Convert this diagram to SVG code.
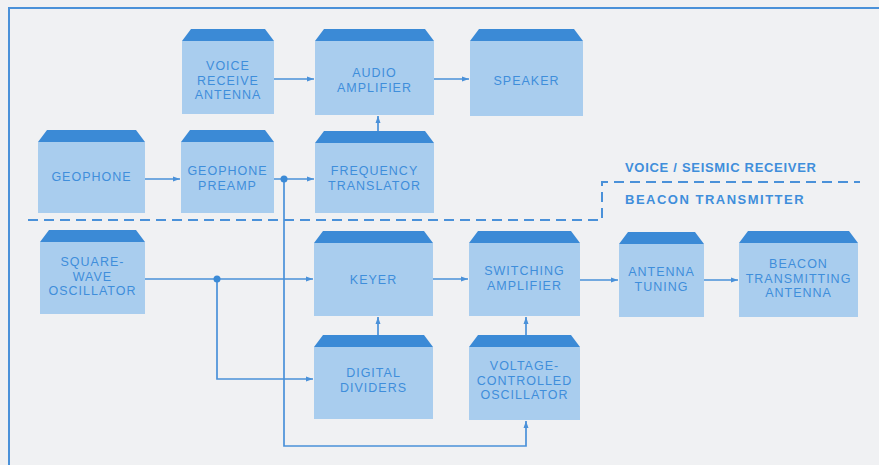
<svg xmlns="http://www.w3.org/2000/svg" width="879" height="465" viewBox="0 0 879 465">
<defs>
<style>
.cap{fill:#3b8ad6}
.body{fill:#a9cdee}
.t{font-family:"Liberation Sans",Arial,sans-serif;font-size:12.5px;fill:#3f8edb;text-anchor:middle;letter-spacing:1px}
.lbl{font-family:"Liberation Sans",Arial,sans-serif;font-size:13px;font-weight:bold;fill:#3f8edb;letter-spacing:0.7px}
.ln{fill:none;stroke:#4a91d9;stroke-width:1.7}
.dash{fill:none;stroke:#4a91d9;stroke-width:2;stroke-dasharray:10 6}
.dot{fill:#3b8ad6}
</style>
<marker id="ah" markerWidth="8" markerHeight="6" refX="7" refY="3" orient="auto" markerUnits="userSpaceOnUse">
<path d="M0,0.5 L7,3 L0,5.5 Z" fill="#4a91d9"/>
</marker>
</defs>
<rect width="879" height="465" fill="#f0f1f3"/>
<path d="M9,465 V8 H879" fill="none" stroke="#4a91d9" stroke-width="2"/>

<g id="connectors">
<path class="ln" d="M274,79 H314" marker-end="url(#ah)"/>
<path class="ln" d="M434,79 H469" marker-end="url(#ah)"/>
<path class="ln" d="M378,131 V116" marker-end="url(#ah)"/>
<path class="ln" d="M145,179 H180" marker-end="url(#ah)"/>
<path class="ln" d="M274,179 H314" marker-end="url(#ah)"/>
<path class="ln" d="M284,179 V446 H526 V421" marker-end="url(#ah)"/>
<path class="ln" d="M145,279 H313" marker-end="url(#ah)"/>
<path class="ln" d="M217,279 V379 H313" marker-end="url(#ah)"/>
<path class="ln" d="M433,279 H468" marker-end="url(#ah)"/>
<path class="ln" d="M378,335 V317" marker-end="url(#ah)"/>
<path class="ln" d="M526,335 V317" marker-end="url(#ah)"/>
<path class="ln" d="M580,280 H618" marker-end="url(#ah)"/>
<path class="ln" d="M704,280 H738" marker-end="url(#ah)"/>
<circle class="dot" cx="284" cy="179" r="3.5"/>
<circle class="dot" cx="217" cy="279" r="3.5"/>
</g>

<g id="divider">
<path class="dash" d="M28,220 H602 V182 H860"/>
<text class="lbl" x="625" y="172">VOICE / SEISMIC RECEIVER</text>
<text class="lbl" x="625" y="204" style="letter-spacing:1.5px">BEACON TRANSMITTER</text>
</g>

<g id="voice-receive-antenna">
<path class="cap" d="M182,41 L191,29 H265 L274,41 Z"/>
<rect class="body" x="182" y="41" width="92" height="73"/>
<text class="t" x="228" y="70">VOICE</text>
<text class="t" x="228" y="84.5">RECEIVE</text>
<text class="t" x="228" y="99">ANTENNA</text>
</g>

<g id="audio-amplifier">
<path class="cap" d="M315,41 L324,29 H425 L434,41 Z"/>
<rect class="body" x="315" y="41" width="119" height="74"/>
<text class="t" x="374.5" y="77">AUDIO</text>
<text class="t" x="374.5" y="91.5">AMPLIFIER</text>
</g>

<g id="speaker">
<path class="cap" d="M470,41 L479,29 H574 L583,41 Z"/>
<rect class="body" x="470" y="41" width="113" height="75"/>
<text class="t" x="526.5" y="84.5">SPEAKER</text>
</g>

<g id="geophone">
<path class="cap" d="M38,142 L47,130 H136 L145,142 Z"/>
<rect class="body" x="38" y="142" width="107" height="71"/>
<text class="t" x="91.5" y="181">GEOPHONE</text>
</g>

<g id="geophone-preamp">
<path class="cap" d="M181,142 L190,130 H265 L274,142 Z"/>
<rect class="body" x="181" y="142" width="93" height="71"/>
<text class="t" x="227.5" y="175">GEOPHONE</text>
<text class="t" x="227.5" y="189.5">PREAMP</text>
</g>

<g id="frequency-translator">
<path class="cap" d="M315,143 L324,131 H425 L434,143 Z"/>
<rect class="body" x="315" y="143" width="119" height="70"/>
<text class="t" x="374.5" y="175">FREQUENCY</text>
<text class="t" x="374.5" y="189.5">TRANSLATOR</text>
</g>

<g id="square-wave-oscillator">
<path class="cap" d="M40,242 L49,230 H136 L145,242 Z"/>
<rect class="body" x="40" y="242" width="105" height="72"/>
<text class="t" x="92.5" y="266">SQUARE-</text>
<text class="t" x="92.5" y="280.5">WAVE</text>
<text class="t" x="92.5" y="295">OSCILLATOR</text>
</g>

<g id="keyer">
<path class="cap" d="M314,243 L323,231 H424 L433,243 Z"/>
<rect class="body" x="314" y="243" width="119" height="73"/>
<text class="t" x="373.5" y="284">KEYER</text>
</g>

<g id="switching-amplifier">
<path class="cap" d="M469,243 L478,231 H571 L580,243 Z"/>
<rect class="body" x="469" y="243" width="111" height="73"/>
<text class="t" x="524.5" y="275">SWITCHING</text>
<text class="t" x="524.5" y="289.5">AMPLIFIER</text>
</g>

<g id="antenna-tuning">
<path class="cap" d="M619,244 L628,232 H695 L704,244 Z"/>
<rect class="body" x="619" y="244" width="85" height="73"/>
<text class="t" x="661.5" y="276">ANTENNA</text>
<text class="t" x="661.5" y="290.5">TUNING</text>
</g>

<g id="beacon-transmitting-antenna">
<path class="cap" d="M739,243 L748,231 H849 L858,243 Z"/>
<rect class="body" x="739" y="243" width="119" height="74"/>
<text class="t" x="798.5" y="268">BEACON</text>
<text class="t" x="798.5" y="282.5">TRANSMITTING</text>
<text class="t" x="798.5" y="297">ANTENNA</text>
</g>

<g id="digital-dividers">
<path class="cap" d="M314,347 L323,335 H424 L433,347 Z"/>
<rect class="body" x="314" y="347" width="119" height="72"/>
<text class="t" x="373.5" y="377">DIGITAL</text>
<text class="t" x="373.5" y="391.5">DIVIDERS</text>
</g>

<g id="voltage-controlled-oscillator">
<path class="cap" d="M469,347 L478,335 H571 L580,347 Z"/>
<rect class="body" x="469" y="347" width="111" height="73"/>
<text class="t" x="524.5" y="370">VOLTAGE-</text>
<text class="t" x="524.5" y="384.5">CONTROLLED</text>
<text class="t" x="524.5" y="399">OSCILLATOR</text>
</g>
</svg>
